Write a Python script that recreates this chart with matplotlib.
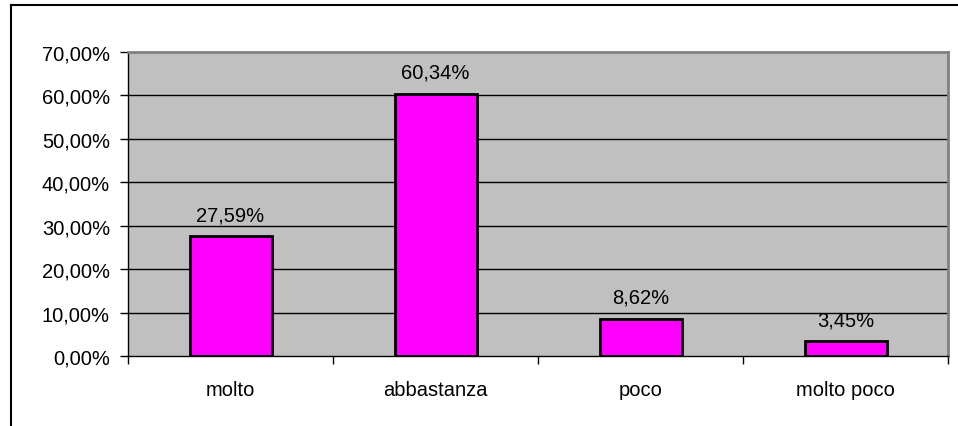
import matplotlib
matplotlib.use("Agg")
import matplotlib.pyplot as plt
from matplotlib.lines import Line2D

categories = ["molto", "abbastanza", "poco", "molto poco"]
values = [27.59, 60.34, 8.62, 3.45]
ytick_vals = [0, 10, 20, 30, 40, 50, 60, 70]

def fmt(v):
    return f"{v:.2f}".replace(".", ",") + "%"

plt.rcParams['font.family'] = ['Liberation Sans', 'DejaVu Sans']
FS = 14.5

W, H = 958, 427
fig = plt.figure(figsize=(W/100, H/100), dpi=100)
ax = fig.add_axes([128/W, (H-357)/H, (948-128)/W, (357-53)/H])
ax.set_facecolor('#C0C0C0')

x = list(range(len(categories)))
ax.bar(x, values, width=0.4, color='#FF00FF', edgecolor='black', linewidth=2, zorder=3)
for xi, v in zip(x, values):
    ax.annotate(fmt(v), (xi, v), xytext=(0, 11.5), textcoords='offset points',
                ha='center', va='baseline', fontsize=FS, color='black')

ax.set_xlim(-0.5, len(categories) - 0.5)
ax.set_ylim(0, 70)
ax.set_yticks(ytick_vals)
ax.set_yticklabels([fmt(v) for v in ytick_vals], fontsize=FS)
for v in ytick_vals[1:-1]:
    ax.axhline(v, color='black', linewidth=1, zorder=1)

ax.set_xticks(x)
ax.set_xticklabels(categories, fontsize=FS)
ax.tick_params(axis='x', length=0, pad=17)
ax.set_xticks([i - 0.5 for i in range(len(categories) + 1)], minor=True)
ax.tick_params(axis='x', which='minor', length=6, width=1, direction='out', color='black')
ax.tick_params(axis='y', length=6, width=1, direction='out', pad=7)

ax.spines['left'].set_color('black')
ax.spines['bottom'].set_color('black')
ax.spines['left'].set_linewidth(1)
ax.spines['bottom'].set_linewidth(1)
ax.spines['top'].set_color('#808080')
ax.spines['right'].set_color('#808080')
ax.spines['top'].set_linewidth(2)
ax.spines['right'].set_linewidth(2)

# outer chart border (top and left visible)
fig.add_artist(Line2D([11/W, 1.0], [1 - 6/H, 1 - 6/H], transform=fig.transFigure, color='black', linewidth=1.5))
fig.add_artist(Line2D([11/W, 11/W], [0, 1 - 6/H], transform=fig.transFigure, color='black', linewidth=1.5))

fig.savefig("out.png", dpi=100, facecolor='white')
